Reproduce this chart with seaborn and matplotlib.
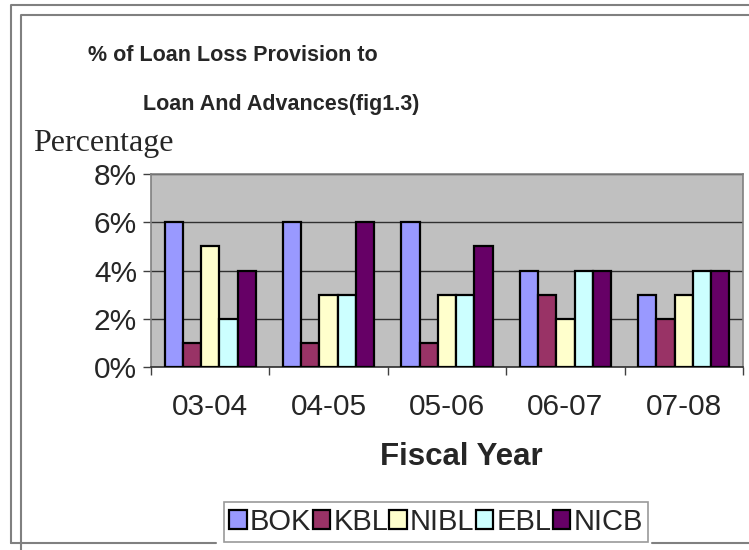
import matplotlib
matplotlib.use("Agg")
import matplotlib.pyplot as plt
import seaborn as sns
import pandas as pd
from matplotlib.lines import Line2D
from matplotlib.ticker import PercentFormatter, FixedLocator

years = ["03-04", "04-05", "05-06", "06-07", "07-08"]
banks = ["BOK", "KBL", "NIBL", "EBL", "NICB"]
BOK = [6, 6, 6, 4, 3]
KBL = [1, 1, 1, 3, 2]
NIBL = [5, 3, 3, 2, 3]
EBL = [2, 3, 3, 4, 4]
NICB = [4, 6, 5, 4, 4]
colors = ["#9999FF", "#993366", "#FFFFCC", "#CCFFFF", "#660066"]

rows = []
for b, vals in zip(banks, [BOK, KBL, NIBL, EBL, NICB]):
    for y, v in zip(years, vals):
        rows.append({"Fiscal Year": y, "Bank": b, "Value": v / 100.0})
df = pd.DataFrame(rows)

sns.set_theme(style="white")
plt.rcParams['font.family'] = ['Liberation Sans', 'DejaVu Sans']

W, H = 749, 550
fig = plt.figure(figsize=(W / 100, H / 100), dpi=100)
fig.patch.set_facecolor("white")
ax = fig.add_axes([151 / W, 1 - 367 / H, (743 - 151) / W, (367 - 174) / H])
ax.set_facecolor("#C0C0C0")

sns.barplot(data=df, x="Fiscal Year", y="Value", hue="Bank", hue_order=banks,
            order=years, palette=colors, saturation=1, edgecolor="black",
            linewidth=1.6, width=0.77, ax=ax, legend=True, zorder=3)

ax.set_ylim(0, 0.08)
ax.set_xlim(-0.5, 4.5)
ax.yaxis.set_major_locator(FixedLocator([0, 0.02, 0.04, 0.06, 0.08]))
ax.yaxis.set_major_formatter(PercentFormatter(1.0, decimals=0))
ax.grid(axis="y", color="#303030", linewidth=1.0, zorder=0)
ax.set_axisbelow(True)
ax.tick_params(axis="y", which="major", direction="out", length=6, width=1,
               color="#404040", labelsize=21.5, pad=4, left=True)
ax.set_xticks(range(len(years)))
ax.set_xticklabels(years)
ax.tick_params(axis="x", which="major", length=0, labelsize=21.5, pad=19)
ax.set_xticks([i - 0.5 for i in range(len(years) + 1)], minor=True)
ax.tick_params(axis="x", which="minor", direction="out", length=6, width=1,
               color="#404040", bottom=True)
for s in ["top", "right", "left"]:
    ax.spines[s].set_color("#808080")
    ax.spines[s].set_linewidth(1.2)
ax.spines["bottom"].set_color("#303030")
ax.spines["bottom"].set_linewidth(1.2)
for s in ax.spines.values():
    s.set_visible(True)

ax.set_xlabel("Fiscal Year", fontsize=22.5, fontweight="bold")
ax.xaxis.set_label_coords((461 - 151) / 592, (367 - 457) / 193)
ax.xaxis.label.set_va("center")
ax.set_ylabel("")

fig.text(88 / W, 1 - 61 / H, "% of Loan Loss Provision to", fontsize=15.5,
         fontweight="bold", ha="left", va="baseline")
fig.text(143 / W, 1 - 110 / H, "Loan And Advances(fig1.3)", fontsize=15.5,
         fontweight="bold", ha="left", va="baseline")
fig.text(33 / W, 1 - 151 / H, "Percentage", fontsize=23,
         family=["Liberation Serif", "DejaVu Serif"], ha="left", va="baseline")

# legend
leg = ax.legend(loc="center", bbox_to_anchor=(436 / W, 1 - 522 / H),
                bbox_transform=fig.transFigure, ncol=5, frameon=True,
                fontsize=21, handlelength=0.6, handleheight=0.6,
                handletextpad=0.1, columnspacing=0.05, borderpad=0.2,
                fancybox=False, borderaxespad=0)
leg.get_frame().set_edgecolor("#808080")
leg.get_frame().set_linewidth(1.2)
for h in leg.legend_handles:
    h.set_edgecolor("black")
    h.set_linewidth(1.6)

# frames
def fline(xs, ys, **kw):
    fig.add_artist(Line2D([x / W for x in xs], [1 - y / H for y in ys],
                          transform=fig.transFigure, color="#808080",
                          linewidth=1.5, **kw))

fline([11, 11, 760], [543, 5, 5])
fline([11, 216], [543, 543])
fline([652, 760], [543, 543])
fline([21, 21, 760], [560, 15, 15])

fig.savefig("out.png", dpi=100, facecolor="white")
